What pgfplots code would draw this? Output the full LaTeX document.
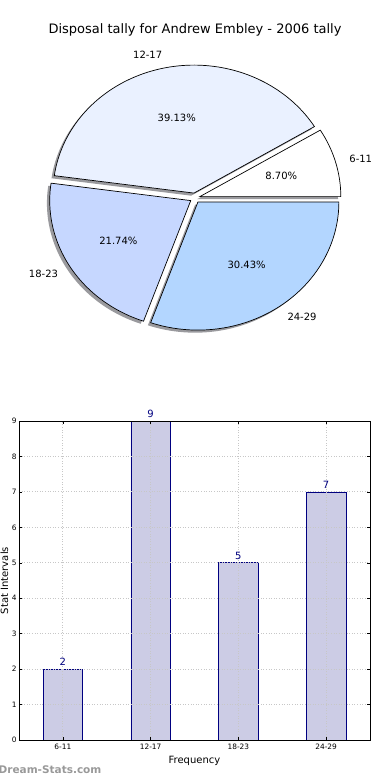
\documentclass[border=0pt]{standalone}
\usepackage{pgfplots}
\usepackage{pgfplotstable}
\pgfplotsset{compat=1.18}
\usepackage{fontspec}
\setmainfont{DejaVu Sans}
\newfontfamily\wmfont{DejaVu Sans Bold}
\definecolor{sA}{HTML}{FFFFFF}
\definecolor{sB}{HTML}{EAF1FF}
\definecolor{sC}{HTML}{C6D7FF}
\definecolor{sD}{HTML}{B3D6FF}
\definecolor{shade}{HTML}{9A9A9E}
\definecolor{barfill}{HTML}{CCCCE5}
\definecolor{baredge}{HTML}{000080}
\pgfplotstableread{
label value
6-11  2
12-17 9
18-23 5
24-29 7
}\tally
\begin{document}
\begin{tikzpicture}
\useasboundingbox (0,0) rectangle (390pt,780pt);
% ---------------- pie (pixel coordinates, y up) ----------------
\begin{axis}[at={(0,0)}, anchor=south west, scale only axis,
  width=390pt, height=780pt, xmin=0, xmax=390, ymin=0, ymax=780,
  hide axis, clip=false]
% shadows (offset -2.8,-2.6)
\addplot[draw=none, fill=shade, domain=0:31.304, samples=30, variable=\t]
  ({197.01+141*cos(\t)},{580.75+128*sin(\t)}) -- (axis cs:197.01,580.75) -- cycle;
\addplot[draw=none, fill=shade, domain=31.304:172.174, samples=90, variable=\t]
  ({191.18+141*cos(\t)},{584.30+128*sin(\t)}) -- (axis cs:191.18,584.30) -- cycle;
\addplot[draw=none, fill=shade, domain=172.174:250.435, samples=60, variable=\t]
  ({187.93+141*cos(\t)},{576.80+128*sin(\t)}) -- (axis cs:187.93,576.80) -- cycle;
\addplot[draw=none, fill=shade, domain=250.435:360, samples=70, variable=\t]
  ({195.08+141*cos(\t)},{575.31+128*sin(\t)}) -- (axis cs:195.08,575.31) -- cycle;
% slices
\addplot[draw=black, line width=0.7pt, fill=sA, domain=0:31.304, samples=30, variable=\t]
  ({199.81+141*cos(\t)},{583.35+128*sin(\t)}) -- (axis cs:199.81,583.35) -- cycle;
\addplot[draw=black, line width=0.7pt, fill=sB, domain=31.304:172.174, samples=90, variable=\t]
  ({193.98+141*cos(\t)},{586.90+128*sin(\t)}) -- (axis cs:193.98,586.90) -- cycle;
\addplot[draw=black, line width=0.7pt, fill=sC, domain=172.174:250.435, samples=60, variable=\t]
  ({190.73+141*cos(\t)},{579.40+128*sin(\t)}) -- (axis cs:190.73,579.40) -- cycle;
\addplot[draw=black, line width=0.7pt, fill=sD, domain=250.435:360, samples=70, variable=\t]
  ({197.88+141*cos(\t)},{577.91+128*sin(\t)}) -- (axis cs:197.88,577.91) -- cycle;
% labels
\begin{scope}[every node/.style={font=\fontsize{10}{12}\selectfont, inner sep=0pt}]
\node[anchor=west] at (axis cs:349.2,621.3) {6-11};
\node[anchor=east] at (axis cs:162.4,724.8) {12-17};
\node[anchor=east] at (axis cs:58.2,506.2) {18-23};
\node[anchor=west] at (axis cs:287.3,462.9) {24-29};
\node at (axis cs:281.3,604.1) {8.70\%};
\node at (axis cs:176.8,662.1) {39.13\%};
\node at (axis cs:118.4,539.5) {21.74\%};
\node at (axis cs:246.6,515.2) {30.43\%};
\end{scope}
\node[font=\fontsize{13}{15}\selectfont, inner sep=0pt] at (axis cs:195,750) {Disposal tally for Andrew Embley - 2006 tally};
\node[font=\wmfont\fontsize{10.5}{12}\selectfont, text=black!40, anchor=west, inner sep=0pt] at (axis cs:-1.5,10) {Dream-Stats.com};
\end{axis}
% ---------------- bar chart ----------------
\begin{axis}[at={(19pt,40pt)}, anchor=south west, scale only axis,
  width=351pt, height=319pt,
  xmin=-0.5, xmax=3.5, ymin=0, ymax=9,
  ybar, bar width=0.45, bar shift=0pt,
  xtick={0,1,2,3}, xticklabels={6-11,12-17,18-23,24-29},
  ytick={0,1,...,9},
  /pgf/number format/assume math mode=true,
  tick label style={font=\fontsize{7.4}{8}\selectfont},
  yticklabel style={xshift=1pt},
  tick align=inside, major tick length=3pt,
  tick style={black, line width=0.5pt},
  grid=major, major grid style={dash pattern=on 1pt off 1.6pt, black!22, line width=0.8pt},
  axis on top, axis line style={line width=0.8pt},
  xlabel={Frequency}, ylabel={Stat Intervals},
  xlabel style={font=\fontsize{10}{12}\selectfont, at={(axis description cs:0.5,0)}, anchor=center, yshift=-21pt},
  ylabel style={font=\fontsize{10}{12}\selectfont, at={(axis description cs:-0.031,0.5)}, anchor=base, inner sep=0pt},
  nodes near coords,
  nodes near coords style={font=\fontsize{10}{12}\selectfont, text=baredge, inner sep=3.2pt},
]
\addplot[fill=barfill, draw=baredge, line width=0.7pt] table[x expr=\coordindex, y=value] {\tally};
\end{axis}
\end{tikzpicture}
\end{document}
